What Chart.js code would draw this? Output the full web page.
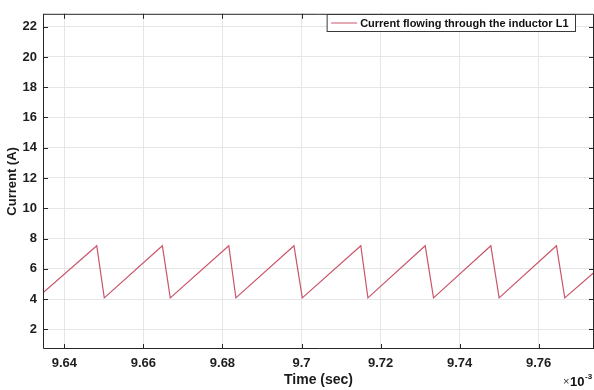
<!DOCTYPE html>
<html>
<head>
<meta charset="utf-8">
<script src="https://cdn.jsdelivr.net/npm/chart.js@4.4.1/dist/chart.umd.min.js"></script>
<style>
  html, body { margin: 0; padding: 0; background: #ffffff; }
  #wrap { width: 594px; height: 390px; position: relative; }
</style>
</head>
<body>
<div id="wrap"><canvas id="chart" width="594" height="390"></canvas></div>
<script>
// Inductor current waveform (time in units of 1e-3 s)
const timeMs = [9.6346, 9.6482, 9.6501, 9.6648, 9.6668, 9.6816, 9.6834, 9.6981, 9.7002,
                9.7150, 9.7168, 9.7313, 9.7334, 9.7479, 9.7500, 9.7645, 9.7666, 9.7740];
const currentA = [4.42, 7.52, 4.08, 7.52, 4.08, 7.52, 4.08, 7.52, 4.08,
                  7.52, 4.08, 7.52, 4.08, 7.52, 4.08, 7.52, 4.08, 5.75];
const seriesLabel = 'Current flowing through the inductor L1';

// Axis ticks and limits
const xTicks = [9.64, 9.66, 9.68, 9.70, 9.72, 9.74, 9.76];
const yTicks = [2, 4, 6, 8, 10, 12, 14, 16, 18, 20, 22];
const xLimits = [9.6346, 9.7740];
const yLimits = [0.7, 22.85];

const FONT = "'Liberation Sans', Arial, Helvetica, sans-serif";
const AXIS_COLOR = '#262626';
const LINE_COLOR = '#c9566a';

const points = timeMs.map((t, i) => ({ x: t, y: currentA[i] }));

// Box frame with inward ticks on all four sides, legend box and exponent label
const framePlugin = {
  id: 'frame',
  afterDraw(chart) {
    const { ctx, chartArea: a, scales } = chart;
    ctx.save();
    ctx.strokeStyle = AXIS_COLOR;
    ctx.lineWidth = 1;
    ctx.beginPath();
    ctx.moveTo(a.left + 0.5, a.top + 0.5);
    ctx.lineTo(a.right - 0.5, a.top + 0.5);
    ctx.lineTo(a.right - 0.5, a.bottom - 0.5);
    ctx.moveTo(a.left + 0.5, a.top);
    ctx.lineTo(a.left + 0.5, a.bottom - 0.5);
    ctx.lineTo(a.right, a.bottom - 0.5);
    ctx.stroke();
    const tl = 5;
    ctx.beginPath();
    xTicks.forEach(v => {
      const px = Math.round(scales.x.getPixelForValue(v)) + 0.5;
      ctx.moveTo(px, a.bottom); ctx.lineTo(px, a.bottom - tl);
      ctx.moveTo(px, a.top); ctx.lineTo(px, a.top + tl);
    });
    yTicks.forEach(v => {
      const py = Math.round(scales.y.getPixelForValue(v)) + 0.5;
      ctx.moveTo(a.left, py); ctx.lineTo(a.left + tl, py);
      ctx.moveTo(a.right, py); ctx.lineTo(a.right - tl, py);
    });
    ctx.stroke();

    // legend
    const ds = chart.data.datasets[0];
    ctx.font = 'bold 11px ' + FONT;
    const tw = ctx.measureText(ds.label).width;
    const boxRight = 575.5, boxTop = 14.5, boxH = 17;
    const boxLeft = boxRight - (tw + 40);
    ctx.fillStyle = '#ffffff';
    ctx.fillRect(boxLeft, boxTop, boxRight - boxLeft, boxH);
    ctx.strokeStyle = '#3a3a3a';
    ctx.strokeRect(boxLeft, boxTop, boxRight - boxLeft, boxH);
    ctx.strokeStyle = ds.borderColor;
    ctx.lineWidth = 1;
    ctx.beginPath();
    ctx.moveTo(boxLeft + 4, boxTop + boxH / 2);
    ctx.lineTo(boxLeft + 30, boxTop + boxH / 2);
    ctx.stroke();
    ctx.fillStyle = '#111111';
    ctx.textBaseline = 'middle';
    ctx.textAlign = 'left';
    ctx.fillText(ds.label, boxLeft + 33, boxTop + boxH / 2 + 0.5);

    // x-axis exponent
    ctx.fillStyle = '#333333';
    ctx.font = '11px ' + FONT;
    ctx.fillText('\u00d7', 563, 382);
    ctx.fillStyle = '#111111';
    ctx.font = 'bold 13px ' + FONT;
    ctx.fillText('10', 570, 382);
    ctx.font = 'bold 8px ' + FONT;
    ctx.fillText('-3', 585, 377);
    ctx.restore();
  }
};

new Chart(document.getElementById('chart'), {
  type: 'line',
  data: {
    datasets: [{
      label: seriesLabel,
      data: points,
      borderColor: LINE_COLOR,
      borderWidth: 1.2,
      pointRadius: 0,
      tension: 0,
      fill: false
    }]
  },
  options: {
    responsive: false,
    animation: false,
    devicePixelRatio: 1,
    layout: { padding: { top: 5, right: 0, left: 0, bottom: 0 } },
    plugins: { legend: { display: false }, tooltip: { enabled: false } },
    scales: {
      x: {
        type: 'linear',
        min: xLimits[0],
        max: xLimits[1],
        afterBuildTicks: s => { s.ticks = xTicks.map(v => ({ value: v })); },
        afterFit: s => { s.height = 41; },
        grid: { color: '#e6e6e6', lineWidth: 1, drawTicks: false },
        border: { display: false },
        ticks: {
          padding: 7,
          color: '#1e1e1e',
          font: { family: FONT, size: 13, weight: 'bold' },
          maxRotation: 0,
          callback: v => String(Number(v.toFixed(2)))
        },
        title: {
          display: true,
          text: 'Time (sec)',
          color: '#1a1a1a',
          font: { family: FONT, size: 14, weight: 'bold' },
          padding: { top: 0, bottom: 1 }
        }
      },
      y: {
        type: 'linear',
        min: yLimits[0],
        max: yLimits[1],
        afterBuildTicks: s => { s.ticks = yTicks.map(v => ({ value: v })); },
        afterFit: s => { s.width = 43; },
        grid: { color: '#e6e6e6', lineWidth: 1, drawTicks: false },
        border: { display: false },
        ticks: {
          padding: 6,
          color: '#1e1e1e',
          font: { family: FONT, size: 13, weight: 'bold' }
        },
        title: {
          display: true,
          text: 'Current (A)',
          color: '#1a1a1a',
          font: { family: FONT, size: 13, weight: 'bold' },
          padding: { top: 5, bottom: 0 }
        }
      }
    }
  },
  plugins: [framePlugin]
});
</script>
</body>
</html>
